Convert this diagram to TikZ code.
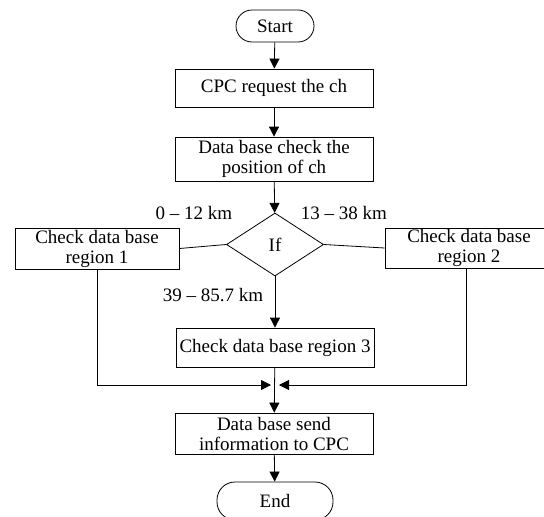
\documentclass[tikz,border=0pt]{standalone}
\usepackage{fontspec}
\setmainfont{Liberation Serif}
\usetikzlibrary{arrows.meta,shapes.geometric}
\newcommand\dgfont{\fontsize{19}{20}\selectfont}
\begin{document}
\begin{tikzpicture}[x=1pt,y=-1pt,
  every node/.style={font=\dgfont,inner sep=0pt,align=center},
  stepbox/.style={draw,line width=0.8pt,minimum width=198pt,minimum height=40pt},
  term/.style={draw,line width=0.8pt,rectangle,rounded corners=16pt},
  decide/.style={draw,line width=0.8pt,diamond,minimum width=97pt,minimum height=63pt},
  conn/.style={line width=0.8pt},
  arr/.style={line width=0.8pt,-{Triangle[length=10pt,width=10pt]}}]
\useasboundingbox (0,0) rectangle (544,517);

\node[term,minimum width=78pt,minimum height=32pt] (start) at (275,26) {Start};
\node[stepbox,minimum height=38pt] (req) at (274,88) {CPC request the ch};
\node[stepbox,minimum height=44pt] (chk) at (274,159) {Data base check the\\position of ch};
\node[decide] (dia) at (275,244.5) {If};
\node[draw,line width=0.8pt,minimum width=164pt,minimum height=41pt] (r1) at (97,248.5) {Check data base\\region 1};
\node[draw,line width=0.8pt,minimum width=168pt,minimum height=40pt] (r2) at (469,248) {Check data base\\region 2};
\node[stepbox,minimum height=39pt] (r3) at (275,347.5) {Check data base region 3};
\node[stepbox,minimum height=41pt] (send) at (274,433.5) {Data base send\\information to CPC};
\node[term,rounded corners=18pt,minimum width=116pt,minimum height=38pt] (end) at (275,501) {End};

\node (l1) at (194,213) {0 -- 12 km};
\node (l2) at (344,213) {13 -- 38 km};
\node (l3) at (213,295) {39 -- 85.7 km};

\coordinate (m) at (275,385);

\draw[arr] (start) -- (req);
\draw[arr] (req) -- (chk);
\draw[arr] (chk) -- (dia);
\draw[conn] (dia.west) -- (r1.east);
\draw[conn] (dia.east) -- (r2.west);
\draw[arr] (dia) -- (r3);
\draw[arr,shorten >=4pt] (r1.south) |- (m);
\draw[arr,shorten >=4pt] ([xshift=-3pt]r2.south) |- (m);
\draw[arr] (r3) -- (send);
\draw[arr] (send) -- (end);
\end{tikzpicture}
\end{document}
